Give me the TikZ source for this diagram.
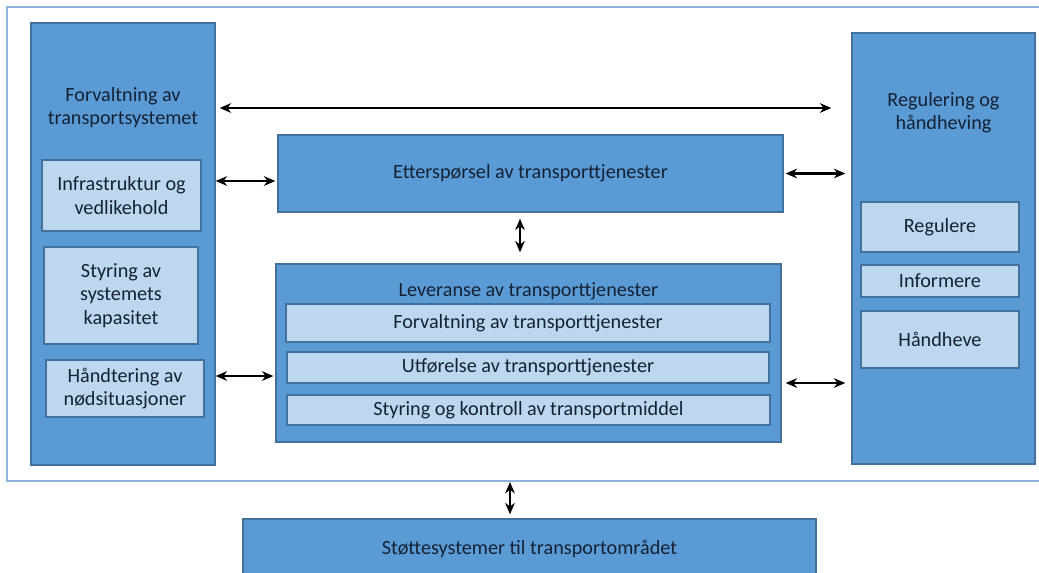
\documentclass[tikz,border=0pt]{standalone}
\usepackage{fontspec}
\setmainfont{Carlito}
\usetikzlibrary{arrows.meta,positioning,calc}
\definecolor{boxfill}{RGB}{91,155,213}
\definecolor{boxline}{RGB}{65,113,156}
\definecolor{subfill}{RGB}{189,215,238}
\definecolor{framecol}{RGB}{143,180,220}
\definecolor{txtdark}{RGB}{20,34,53}
\tikzset{
  basebox/.style={rectangle,draw=boxline,line width=0.8pt,align=center,text=txtdark,font=\fontsize{11.5}{13.2}\selectfont,inner sep=0pt},
  mainnode/.style={basebox,fill=boxfill},
  subnode/.style={basebox,fill=subfill},
  titlenode/.style={align=center,text=txtdark,font=\fontsize{11.5}{13.2}\selectfont,inner sep=0pt},
  dblarr/.style={<->,>={Stealth[length=6.5pt,width=5.5pt]},line width=1.4pt,color=black}
}

\begin{document}
\begin{tikzpicture}[x=0.02cm,y=-0.02cm]
  \useasboundingbox (0,0) rectangle (1039,572);

  %% outer frame
  \draw[framecol,line width=1.2pt] (1060,7) -- (7,7) -- (7,481) -- (1060,481);

  %% left column
  \node[mainnode,minimum width=3.68cm,minimum height=8.84cm] (forv) at (123,244) {};
  \node[titlenode] (forvtitle) at (123,108) {Forvaltning av\\transportsystemet};
  \node[subnode,minimum width=3.18cm,minimum height=1.42cm] (infra) at (121.5,195.5) {Infrastruktur og\\vedlikehold};
  \node[subnode,minimum width=3.08cm,minimum height=1.94cm] (kap) at (121,295.5) {Styring av\\systemets\\kapasitet};
  \node[subnode,minimum width=3.16cm,minimum height=1.14cm] (nod) at (125,388.5) {Håndtering av\\nødsituasjoner};

  %% middle column
  \node[mainnode,minimum width=10.1cm,minimum height=1.54cm] (ett) at (530.5,173.5) {Etterspørsel av transporttjenester};
  \node[mainnode,minimum width=10.1cm,minimum height=3.56cm] (lev) at (528.5,353) {};
  \node[titlenode] (levtitle) at (528.5,291) {Leveranse av transporttjenester};
  \node[subnode,minimum width=9.68cm,minimum height=0.76cm] (forvtj) at (528,323) {Forvaltning av transporttjenester};
  \node[subnode,minimum width=9.64cm,minimum height=0.62cm] (utf) at (528,367.5) {Utførelse av transporttjenester};
  \node[subnode,minimum width=9.66cm,minimum height=0.60cm] (kontr) at (528.5,410) {Styring og kontroll av transportmiddel};

  %% right column
  \node[mainnode,minimum width=3.66cm,minimum height=8.62cm] (regh) at (943.5,248.5) {};
  \node[titlenode] (reghtitle) at (943.5,113) {Regulering og\\håndheving};
  \node[subnode,minimum width=3.16cm,minimum height=1.0cm] (regl) at (940,227) {Regulere};
  \node[subnode,minimum width=3.16cm,minimum height=0.64cm] (info) at (940,281) {Informere};
  \node[subnode,minimum width=3.16cm,minimum height=1.14cm] (hhev) at (940,339.5) {Håndheve};

  %% support systems
  \node[mainnode,minimum width=11.46cm,minimum height=1.2cm] (stotte) at (529.5,549) {Støttesystemer til transportområdet};
  \coordinate (framebot) at (510,481);

  %% connectors
  \draw[dblarr,shorten <=0.08cm,shorten >=0.4cm] (forv.east |- forvtitle) -- (regh.west |- forvtitle);
  \draw[dblarr,shorten >=0.04cm] (forv.east |- 0,181) -- (ett.west |- 0,181);
  \draw[dblarr,shorten <=0.04cm,shorten >=0.12cm] (ett.east) -- (regh.west |- ett.east);
  \draw[dblarr,shorten <=0.12cm,shorten >=0.22cm] (ett.south -| 520,0) -- (lev.north -| 520,0);
  \draw[dblarr,shorten >=0.04cm] (forv.east |- 0,376) -- (lev.west |- 0,376);
  \draw[dblarr,shorten <=0.08cm,shorten >=0.12cm] (lev.east |- 0,383) -- (regh.west |- 0,383);
  \draw[dblarr,shorten <=0.02cm,shorten >=0.08cm] (framebot) -- (stotte.north -| framebot);
\end{tikzpicture}
\end{document}
